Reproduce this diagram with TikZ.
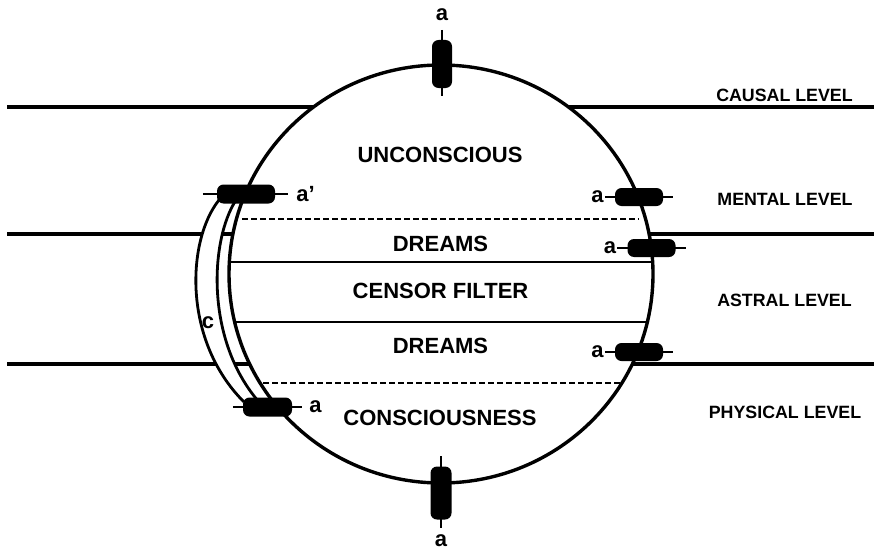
\documentclass[tikz,border=0pt]{standalone}
\usepackage{fontspec}
\setmainfont{Liberation Sans}
\begin{document}
\begin{tikzpicture}[x=1pt, y=-1pt, line join=round, line cap=butt,
  level/.style={line width=4.4pt},
  chord/.style={line width=2.5pt},
  dashline/.style={line width=2.5pt, dash pattern=on 6pt off 3pt},
  rim/.style={line width=3.4pt},
  band/.style={line width=2.8pt},
  stub/.style={line width=2.3pt},
  capsule/.style={fill=black, rounded corners=6.5pt, inner sep=0pt},
  hcap/.style={capsule, minimum width=48pt, minimum height=18pt},
  vcap/.style={capsule, minimum width=20pt, minimum height=48pt},
  zone/.style={font=\fontsize{22}{26}\selectfont\bfseries},
  plane/.style={font=\fontsize{17.8}{21}\selectfont\bfseries},
  tag/.style={font=\fontsize{22}{26}\selectfont\bfseries, inner sep=1pt}]
\useasboundingbox (0,0) rectangle (874,551);
% levels
\draw[level] (7,107)--(874,107) (7,234)--(874,234) (7,364)--(874,364);
% the sphere
\filldraw[rim, fill=white] (441,274) ellipse [x radius=212pt, y radius=209pt];
\begin{scope}
\clip (441,274) ellipse [x radius=212pt, y radius=209pt];
\draw[chord] (0,262)--(874,262) (0,322)--(874,322);
\end{scope}
\draw[dashline] (242,219)--(639,219) (263,383)--(621,383);
% channel c
\fill[white] (219,200) .. controls (187,240) and (182,340) .. (244,402)
  -- (259,402) .. controls (205,340) and (210,240) .. (236,200) -- cycle;
\draw[band] (219,200) .. controls (187,240) and (182,340) .. (244,402);
\draw[band] (236,200) .. controls (210,240) and (205,340) .. (259,402);
\node[tag] (c) at (208,323) {c};
% capsules
\node[vcap] (top) at (442,64) {};
\node[vcap, minimum width=21pt, minimum height=53pt] (bot) at (441,493) {};
\node[hcap] (r1) at (639,197) {};
\node[hcap] (r2) at (651.5,248) {};
\node[hcap] (r3) at (639,352) {};
\node[hcap, minimum width=58pt, minimum height=19pt] (l1) at (246,194) {};
\node[hcap, minimum width=49pt, minimum height=19pt] (l2) at (267.5,407) {};
\foreach \n in {top,bot}
  \draw[stub] ([yshift=10pt]\n.north)--([yshift=-8pt]\n.south);
\foreach \n in {r1,r2,r3,l2}
  \draw[stub] ([xshift=-10pt]\n.west)--([xshift=10pt]\n.east);
\draw[stub] ([xshift=-14pt]l1.west)--([xshift=13pt]l1.east);
% labels a
\node[tag] (atop) at (442,15) {a};
\node[tag] (abot) at (441,541) {a};
\node[tag, anchor=east] (ar1) at ([xshift=-10pt]r1.west) {a};
\node[tag, anchor=east] (ar2) at ([xshift=-10pt]r2.west) {a};
\node[tag, anchor=east] (ar3) at ([xshift=-10pt]r3.west) {a};
\node[tag, anchor=west] (al1) at ([xshift=20pt]l1.east) {a’};
\node[tag, anchor=west] (al2) at ([xshift=16pt]l2.east) {a};
% zones
\node[zone] (unc) at (440,155) {UNCONSCIOUS};
\node[zone] (dr1) at (440.5,244) {DREAMS};
\node[zone] (cen) at (440.5,291) {CENSOR FILTER};
\node[zone] (dr2) at (440.5,346) {DREAMS};
\node[zone] (con) at (440,418) {CONSCIOUSNESS};
% level names
\node[plane] (causal) at (784.5,95) {CAUSAL LEVEL};
\node[plane] (mental) at (785,199) {MENTAL LEVEL};
\node[plane] (astral) at (784.5,300) {ASTRAL LEVEL};
\node[plane] (phys) at (785,412) {PHYSICAL LEVEL};
\end{tikzpicture}
\end{document}
